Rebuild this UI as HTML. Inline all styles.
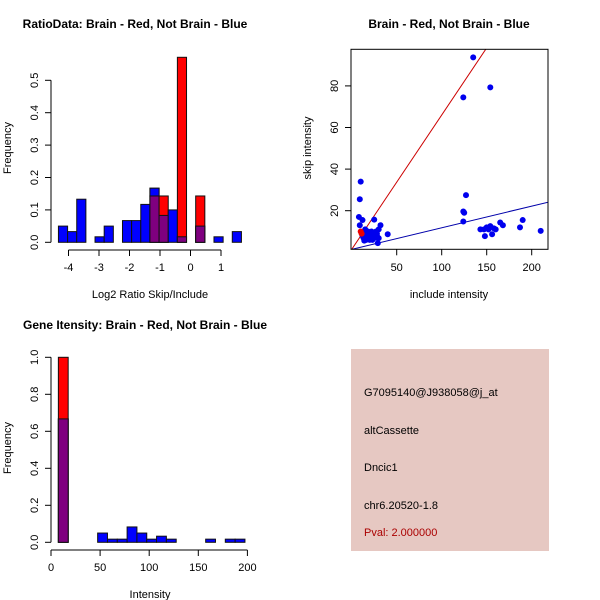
<!DOCTYPE html>
<html><head><meta charset="utf-8"><style>
body{margin:0;background:#fff}
svg{display:block;font-family:"Liberation Sans",sans-serif}
</style></head><body>
<svg id="s" width="600" height="600" viewBox="0 0 600 600"></svg>
<script>
// ---------- data ----------
const ratioBinStart = -4.33, ratioBinWidth = 0.3;
const ratioBlue = [0.05,0.033,0.133,0,0.017,0.05,0,0.067,0.067,0.117,0.167,0.083,0.1,0.017,0,0.05,0,0.017,0,0.033];
const ratioRed  = [0,0,0,0,0,0,0,0,0,0,0.143,0.143,0,0.571,0,0.143,0,0,0,0];
const ratioXTicks = [-4,-3,-2,-1,0,1];
const ratioYTicks = [0,0.1,0.2,0.3,0.4,0.5];
const ratioYLabels = ["0.0","0.1","0.2","0.3","0.4","0.5"];

const scatterBlueX = [135,154,124,10,9,127,124,125,124,8,9,12,25,32,40,30,29,14,
  12,14,16,18,20,22,24,26,28,15,17,19,21,23,25,27,13,16,20,24,28,30,18,22,26,
  143,147,152,154,158,156,148,165,168,187,190,210,150,160];
const scatterBlueY = [93.7,79.3,74.5,34,25.5,27.5,19.6,19,14.8,17,13,15.5,15.7,13,8.7,6.8,4.4,5.6,
  8,9,7,8,9,10,8,7,9,11,10,8,7,6,9,10,7,6,6,7,8,11,10,9,8,
  11,11,11,12.6,11.5,8.7,7.8,14.3,13,12,15.5,10.3,12,11];
const scatterRedX = [10,11];
const scatterRedY = [10,9];
const fitIntercept = 1.4, redSlope = 0.646, blueSlope = 0.104;
const scatterXTicks = [50,100,150,200];
const scatterYTicks = [20,40,60,80];

const intBinStart = 7.5, intBinWidth = 10;
const intBlue = [0.667,0,0,0,0.05,0.017,0.017,0.083,0.05,0.017,0.033,0.017,0,0,0,0.017,0,0.017,0.017];
const intRed  = [1.0,0,0,0,0,0,0,0,0,0,0,0,0,0,0,0,0,0,0];
const intXTicks = [0,50,100,150,200];
const intYTicks = [0,0.2,0.4,0.6,0.8,1.0];
const intYLabels = ["0.0","0.2","0.4","0.6","0.8","1.0"];

// ---------- helpers ----------
const NS="http://www.w3.org/2000/svg", S=document.getElementById('s');
function mk(tag,attrs,name,parent){const e=document.createElementNS(NS,tag);for(const k in attrs)e.setAttribute(k,attrs[k]);
  
  
  (parent||S).appendChild(e);return e;}
function txt(x,y,s,name,o){o=o||{};const e=mk('text',{x:x,y:y,'font-size':o.fs||11,'text-anchor':o.anchor||'middle',fill:o.fill||'#000','font-weight':o.bold?'bold':'normal'},name);
  if(o.rot)e.setAttribute('transform','rotate(-90 '+x+' '+y+')');e.textContent=s;return e;}
function line(x1,y1,x2,y2,name,c){return mk('line',{x1,y1,x2,y2,stroke:c||'#000','stroke-width':1},name);}

function hist(blue,red,start,w,xs,ys,y0,prefix){
  for(let i=0;i<blue.length;i++){
    const b=blue[i], r=red[i], m=Math.min(b,r);
    const x1=xs(start+i*w), x2=xs(start+(i+1)*w);
    if(b>0) mk('rect',{x:x1,y:ys(b),width:x2-x1,height:y0-ys(b),fill:'#0000ff',stroke:'#111','stroke-width':1},prefix+'-blue-bar-'+i);
    if(r>0) mk('rect',{x:x1,y:ys(r),width:x2-x1,height:y0-ys(r),fill:'#ff0000',stroke:'#111','stroke-width':1},prefix+'-red-bar-'+i);
    if(m>0) mk('rect',{x:x1,y:ys(m),width:x2-x1,height:y0-ys(m),fill:'#7f007f',stroke:'#111','stroke-width':1},prefix+'-overlap-bar-'+i);
    if(b>0&&r>0&&b>r) mk('rect',{x:x1,y:ys(b),width:x2-x1,height:ys(r)-ys(b),fill:'#0000ff',stroke:'#111','stroke-width':1},prefix+'-blue-top-'+i);
  }
}

// ---------- plot 1 ----------
{
  const xs=v=>190.5+v*30.5, y0=242.3, ys=v=>y0-v*324;
  txt(135,28,'RatioData: Brain - Red, Not Brain - Blue','plot1-title',{bold:true,fs:12});
  hist(ratioBlue,ratioRed,ratioBinStart,ratioBinWidth,xs,ys,y0,'ratio');
  line(51,ys(0),51,ys(0.5),'plot1-y-axis');
  ratioYTicks.forEach((t,i)=>{line(45,ys(t),51,ys(t),'plot1-y-tick');txt(38,ys(t),ratioYLabels[i],'plot1-y-tick-label',{rot:true});});
  line(xs(-4),250,xs(1),250,'plot1-x-axis');
  ratioXTicks.forEach(t=>{line(xs(t),250,xs(t),256,'plot1-x-tick');txt(xs(t),271,String(t),'plot1-x-tick-label');});
  txt(150,298,'Log2 Ratio Skip/Include','plot1-x-axis-title');
  txt(11,148,'Frequency','plot1-y-axis-title',{rot:true});
}
// ---------- plot 2 ----------
{
  const L=351,R=548,T=49.3,B=249.3;
  const xs=v=>351.7+v*0.9, ys=v=>252.3-v*2.08;
  txt(449,28,'Brain - Red, Not Brain - Blue','plot2-title',{bold:true,fs:12});
  const cp=mk('clipPath',{id:'cp'},'plot2-clip');mk('rect',{x:L,y:T,width:R-L,height:B-T},'plot2-clip-rect',cp);
  const g=mk('g',{'clip-path':'url(#cp)'},'plot2-marks');
  mk('line',{x1:xs(-1),y1:ys(fitIntercept-redSlope),x2:xs(240),y2:ys(fitIntercept+240*redSlope),stroke:'#cc0000','stroke-width':1},'red-fit-line',g);
  mk('line',{x1:xs(-1),y1:ys(fitIntercept-blueSlope),x2:xs(240),y2:ys(fitIntercept+240*blueSlope),stroke:'#0000aa','stroke-width':1},'blue-fit-line',g);
  scatterBlueX.forEach((x,i)=>mk('circle',{cx:xs(x),cy:ys(scatterBlueY[i]),r:3,fill:'#0000ee'},'blue-point',g));
  scatterRedX.forEach((x,i)=>mk('circle',{cx:xs(x),cy:ys(scatterRedY[i]),r:3,fill:'#ee0000'},'red-point',g));
  mk('rect',{x:L,y:T,width:R-L,height:B-T,fill:'none',stroke:'#000'},'plot2-box');
  scatterXTicks.forEach(t=>{line(xs(t),B,xs(t),B+6,'plot2-x-tick');txt(xs(t),271,String(t),'plot2-x-tick-label');});
  scatterYTicks.forEach(t=>{line(L-6,ys(t),L,ys(t),'plot2-y-tick');txt(338,ys(t),String(t),'plot2-y-tick-label',{rot:true});});
  txt(449,298,'include intensity','plot2-x-axis-title');
  txt(311,148,'skip intensity','plot2-y-axis-title',{rot:true});
}
// ---------- plot 3 ----------
{
  const xs=v=>51+v*0.982, y0=542.3, ys=v=>y0-v*185;
  txt(145,329,'Gene Itensity: Brain - Red, Not Brain - Blue','plot3-title',{bold:true,fs:12});
  hist(intBlue,intRed,intBinStart,intBinWidth,xs,ys,y0,'intensity');
  line(51,ys(0),51,ys(1),'plot3-y-axis');
  intYTicks.forEach((t,i)=>{line(45,ys(t),51,ys(t),'plot3-y-tick');txt(38,ys(t),intYLabels[i],'plot3-y-tick-label',{rot:true});});
  line(xs(0),550,xs(200),550,'plot3-x-axis');
  intXTicks.forEach(t=>{line(xs(t),550,xs(t),556,'plot3-x-tick');txt(xs(t),571,String(t),'plot3-x-tick-label');});
  txt(150,598,'Intensity','plot3-x-axis-title');
  txt(11,448,'Frequency','plot3-y-axis-title',{rot:true});
}
// ---------- info panel ----------
{
  mk('rect',{x:351,y:349,width:198,height:202,fill:'#e6c8c2'},'info-panel');
  txt(364,396,'G7095140@J938058@j_at','probe-id',{anchor:'start'});
  txt(364,434,'altCassette','event-type',{anchor:'start'});
  txt(364,471,'Dncic1','gene-name',{anchor:'start'});
  txt(364,509,'chr6.20520-1.8','location',{anchor:'start'});
  txt(364,536,'Pval: 2.000000','pvalue',{anchor:'start',fill:'#aa0000'});
}
</script>
</body></html>
